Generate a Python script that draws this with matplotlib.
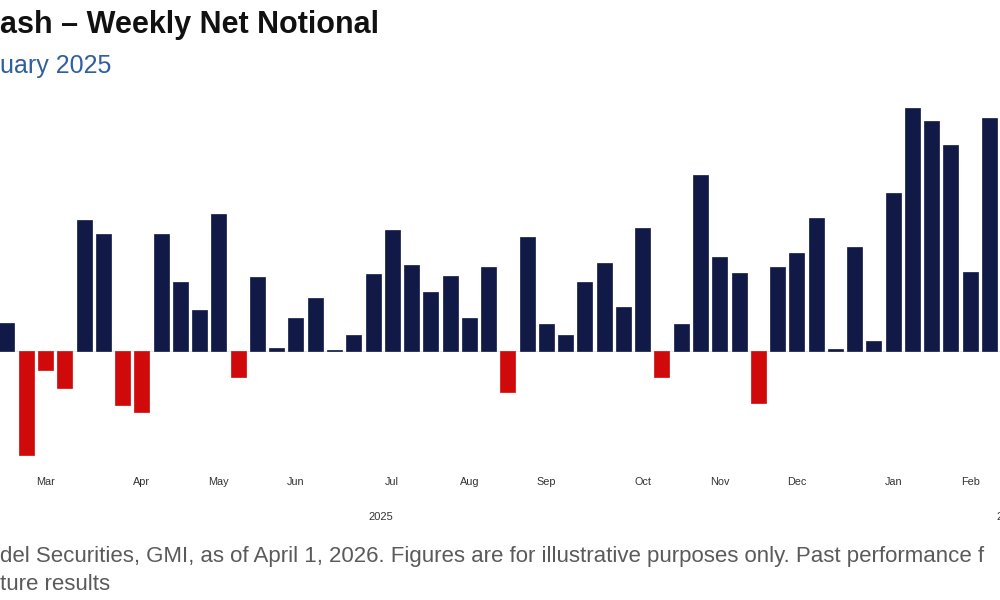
import pandas as pd
import matplotlib.pyplot as plt

plt.rcParams["font.family"] = ["Liberation Sans", "DejaVu Sans"]

# weekly net notional, one bar per week (Mondays)
week_start = "2025-02-17"
net_notional = [
    2.8, -10.4, -1.9, -3.7, 13.1, 11.7, -5.4, -6.1, 11.7, 6.9,
    4.1, 13.7, -2.6, 7.4, 0.3, 3.3, 5.3, 0.15, 1.6, 7.7,
    12.1, 8.6, 5.9, 7.5, 3.3, 8.4, -4.1, 11.4, 2.7, 1.6,
    6.9, 8.8, 4.4, 12.3, -2.6, 2.7, 17.6, 9.4, 7.8, -5.2,
    8.4, 9.8, 13.3, 0.2, 10.4, 1.0, 15.8, 24.3, 23.0, 20.6,
    7.9, 23.3,
]
year_labels = ["2025", "2026"]
year_centres = ["2025-07-03", "2026-02-16"]

title = "ash \u2013 Weekly Net Notional"
subtitle = "uary 2025"
note_1 = ("del Securities, GMI, as of April 1, 2026. Figures are for "
          "illustrative purposes only. Past performance f")
note_2 = "ture results"

NAVY = "#111a46"
RED = "#d00a0a"


def main():
    dates = pd.date_range(week_start, periods=len(net_notional), freq="W-MON")
    colors = [NAVY if v >= 0 else RED for v in net_notional]

    fig = plt.figure(figsize=(10, 6), dpi=100)
    ax = fig.add_axes([0, 0.2333, 1, 0.6167])

    week = pd.Timedelta(days=7)
    ax.bar(dates, net_notional, width=5.45, color=colors,
           edgecolor=colors, linewidth=0.5)
    ax.axhline(0, color="#e0e0e0", linewidth=0.5, zorder=0)
    ax.set_xlim(dates[0] - 0.363 * week, dates[0] + 51.545 * week)
    ax.set_ylim(-10.9, 26.1)

    # month labels on the first week of each month
    s = pd.Series(dates)
    first = s[s.dt.month != s.shift().dt.month].iloc[1:]
    ax.set_xticks(first.values)
    ax.set_xticklabels([d.strftime("%b") for d in first], fontsize=7.8,
                       color="#333333")
    ax.tick_params(axis="x", length=0, pad=12.5)
    ax.set_yticks([])
    for sp in ax.spines.values():
        sp.set_visible(False)

    for lab, c in zip(year_labels, year_centres):
        ax.text(pd.Timestamp(c), -0.154, lab, transform=ax.get_xaxis_transform(),
                ha="center", va="center", fontsize=8, color="#333333")

    fig.text(0.0, 1 - 33 / 600, title, fontsize=22, fontweight="bold",
             color="#111111", va="baseline", ha="left")
    fig.text(0.0, 1 - 73 / 600, subtitle, fontsize=18, color="#2f5fa0",
             va="baseline", ha="left")
    fig.text(0.0, 1 - 562 / 600, note_1, fontsize=16, color="#5a5a5a",
             va="baseline", ha="left")
    fig.text(0.0, 1 - 590 / 600, note_2, fontsize=16, color="#5a5a5a",
             va="baseline", ha="left")

    fig.savefig("out.png", dpi=100)
    plt.close(fig)


if __name__ == "__main__":
    main()
